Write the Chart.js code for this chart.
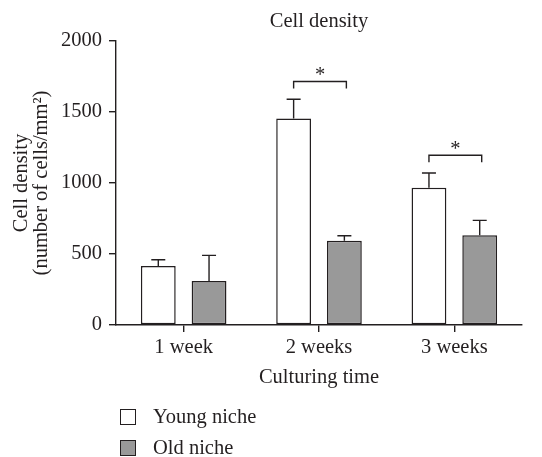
<!DOCTYPE html>
<html>
<head>
<meta charset="utf-8">
<script src="https://cdn.jsdelivr.net/npm/chart.js@4.4.0/dist/chart.umd.min.js"></script>
<style>
  html, body { margin: 0; padding: 0; background: #fff; }
  #wrap { position: relative; width: 542px; height: 457px; overflow: hidden; }
  #chart { display: block; }
  #legend { position: absolute; left: 120px; top: 401px; font-family: "Liberation Serif", serif; font-size: 20.5px; color: #231f20; }
  .item { display: flex; align-items: center; height: 31px; }
  .box { width: 14px; height: 14px; border: 1.3px solid #231f20; margin-right: 17px; }
</style>
</head>
<body>
<div id="wrap">
  <canvas id="chart" width="542" height="457"></canvas>
  <div id="legend"></div>
</div>
<script>
const categories = ['1 week', '2 weeks', '3 weeks'];
const youngValues = [415, 1455, 967];
const youngErrors = [45, 135, 103];
const oldValues = [310, 594, 632];
const oldErrors = [180, 35, 105];
const yTicks = [0, 500, 1000, 1500, 2000];
const sigCategories = [1, 2];
const sigLevels = [1715, 1195];

const ink = '#231f20';
const serif = '"Liberation Serif", "Times New Roman", serif';
const fontSize = 20.5;

// error bars, significance brackets and the title over the chart area
const extras = {
  id: 'extras',
  afterDatasetsDraw(chart) {
    const ctx = chart.ctx;
    const y = chart.scales.y;
    const area = chart.chartArea;
    ctx.save();
    ctx.strokeStyle = ink;
    ctx.lineWidth = 1.4;
    const errs = [youngErrors, oldErrors];
    chart.data.datasets.forEach((ds, di) => {
      chart.getDatasetMeta(di).data.forEach((bar, i) => {
        const top = y.getPixelForValue(ds.data[i] + errs[di][i]);
        ctx.beginPath();
        ctx.moveTo(bar.x, bar.y);
        ctx.lineTo(bar.x, top);
        ctx.moveTo(bar.x - 7, top);
        ctx.lineTo(bar.x + 7, top);
        ctx.stroke();
      });
    });
    ctx.fillStyle = ink;
    ctx.font = fontSize + 'px ' + serif;
    ctx.textAlign = 'center';
    sigCategories.forEach((c, k) => {
      const a = chart.getDatasetMeta(0).data[c].x;
      const b = chart.getDatasetMeta(1).data[c].x + 2;
      const py = y.getPixelForValue(sigLevels[k]);
      ctx.beginPath();
      ctx.moveTo(a, py + 7);
      ctx.lineTo(a, py);
      ctx.lineTo(b, py);
      ctx.lineTo(b, py + 7);
      ctx.stroke();
      ctx.textBaseline = 'middle';
      ctx.fillText('*', (a + b) / 2, py - 6);
    });
    ctx.textBaseline = 'middle';
    ctx.fillText('Cell density', (area.left + area.right) / 2, 22);
    ctx.restore();
  }
};

const chart = new Chart(document.getElementById('chart'), {
  type: 'bar',
  data: {
    labels: categories,
    datasets: [{
      label: 'Young niche',
      data: youngValues,
      backgroundColor: '#ffffff',
      borderColor: ink,
      borderWidth: 1.5,
      borderSkipped: false,
      categoryPercentage: 0.75,
      barPercentage: 0.686
    }, {
      label: 'Old niche',
      data: oldValues,
      backgroundColor: '#999999',
      borderColor: ink,
      borderWidth: 1.5,
      borderSkipped: false,
      categoryPercentage: 0.75,
      barPercentage: 0.686
    }]
  },
  options: {
    responsive: false,
    animation: false,
    layout: { padding: { left: 0, right: 20, top: 41, bottom: 63 } },
    plugins: {
      legend: { display: false },
      tooltip: { enabled: false }
    },
    scales: {
      x: {
        grid: { display: true, drawOnChartArea: false, offset: false, color: ink, tickLength: 7, lineWidth: 1.4 },
        border: { display: true, color: ink, width: 1.4 },
        ticks: { color: ink, font: { family: serif, size: fontSize }, padding: 3 },
        title: { display: true, text: 'Culturing time', color: ink, font: { family: serif, size: fontSize }, padding: { top: 2 } },
        afterFit(scale) { scale.height = 69; }
      },
      y: {
        min: 0,
        max: 2000,
        afterBuildTicks(scale) { scale.ticks = yTicks.map(v => ({ value: v })); },
        grid: { display: true, drawOnChartArea: false, color: ink, tickLength: 7, lineWidth: 1.4 },
        border: { display: true, color: ink, width: 1.4 },
        ticks: { color: ink, font: { family: serif, size: fontSize }, padding: 7, callback: v => String(v) },
        title: { display: true, text: ['Cell density', '(number of cells/mm\u00b2)'], color: ink, font: { family: serif, size: fontSize, lineHeight: 0.95 }, padding: { top: 12, bottom: 4 } },
        afterFit(scale) { scale.width = 116; }
      }
    }
  },
  plugins: [extras]
});

const legendEl = document.getElementById('legend');
chart.data.datasets.forEach(ds => {
  const item = document.createElement('div');
  item.className = 'item';
  const box = document.createElement('span');
  box.className = 'box';
  box.style.background = ds.backgroundColor;
  const txt = document.createElement('span');
  txt.textContent = ds.label;
  item.appendChild(box);
  item.appendChild(txt);
  legendEl.appendChild(item);
});
</script>
</body>
</html>
